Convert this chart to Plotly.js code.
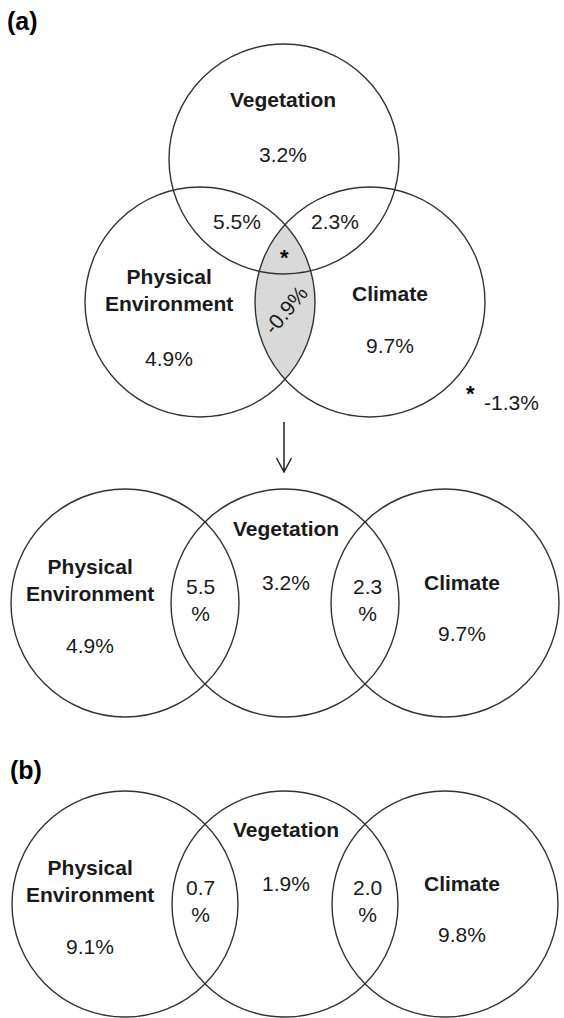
<!DOCTYPE html>
<html>
<head>
<meta charset="utf-8">
<script src="https://cdn.plot.ly/plotly-3.0.1.min.js"></script>
<style>html,body{margin:0;padding:0;background:#fff}#chart{width:564px;height:1018px}</style>
</head>
<body>
<div id="chart"></div>
<script>
// ---------------- data ----------------
const setNames = ['Physical<br>Environment', 'Vegetation', 'Climate'];
const panelLabels = ['(a)', '(b)'];
// panel (a), three-way partition
const aUnique = [4.9, 3.2, 9.7];          // Physical Env., Vegetation, Climate
const aPairs = [5.5, 2.3];                // PhysEnv∩Veg, Veg∩Climate
const aPhysClim = -0.9;                   // PhysEnv∩Climate (shaded)
const aTriple = -1.3;                     // all three (*)
// panel (a), simplified
const aSimpleUnique = [4.9, 3.2, 9.7];
const aSimplePairs = [5.5, 2.3];
// panel (b)
const bUnique = [9.1, 1.9, 9.8];
const bPairs = [0.7, 2.0];

// ---------------- geometry / style ----------------
const FONT = 'Liberation Sans, Arial, sans-serif';
const LINE = {color: '#333333', width: 1.4};
const TXT = '#1a1a1a';
const pct = v => v.toFixed(1) + '%';

const top3 = {r: 115, c: [[200, 302], [284, 159], [370, 302]]};
const rows = [
  {r: 114, cy: 603, cx: [125, 285, 445]},
  {r: 113, cy: 904, cx: [125, 285, 445]}
];

const shapes = [];
const annotations = [];
const traces = [];

function circle(cx, cy, r) {
  shapes.push({type: 'circle', xref: 'x', yref: 'y', x0: cx - r, x1: cx + r, y0: cy - r, y1: cy + r,
    line: LINE, fillcolor: 'rgba(0,0,0,0)', layer: 'above'});
}
function label(text, x, y, opts) {
  annotations.push(Object.assign({text, x, y, xref: 'x', yref: 'y', showarrow: false,
    xanchor: 'center', yanchor: 'middle', font: {family: FONT, size: 21, color: TXT}}, opts || {}));
}
const bold = t => '<b>' + t.split('<br>').join('</b><br><b>') + '</b>';

// ---- panel (a) top: overlapping three circles ----
top3.c.forEach(([x, y]) => circle(x, y, top3.r));
// shaded lens = Physical Environment ∩ Climate
(function () {
  const [p, c] = [top3.c[0], top3.c[2]], r = top3.r;
  const half = (c[0] - p[0]) / 2;
  const a = Math.acos(half / r);
  const xs = [], ys = [];
  const n = 60;
  for (let i = 0; i <= n; i++) { // arc of PE circle (right side)
    const t = -a + 2 * a * i / n;
    xs.push(p[0] + r * Math.cos(t)); ys.push(p[1] + r * Math.sin(t));
  }
  for (let i = 0; i <= n; i++) { // arc of Climate circle (left side)
    const t = Math.PI + a - 2 * a * i / n;
    xs.push(c[0] + r * Math.cos(t)); ys.push(c[1] + r * Math.sin(t));
  }
  traces.push({type: 'scatter', mode: 'lines', x: xs, y: ys, fill: 'toself',
    fillcolor: '#d9d9d9', line: {width: 0}, hoverinfo: 'skip'});
})();

label(bold(panelLabels[0]), 22, 21, {font: {family: FONT, size: 25, color: '#000'}});
label(bold(setNames[1]), 283, 99);
label(pct(aUnique[1]), 283, 154);
label(pct(aPairs[0]), 237, 221);
label(pct(aPairs[1]), 335, 221);
label(bold('*'), 284, 257, {font: {family: FONT, size: 22, color: '#000'}});
label(bold(setNames[0]), 169, 290);
label(bold(setNames[2]), 390, 293);
label(pct(aUnique[0]), 169, 358);
label(pct(aUnique[2]), 390, 345);
label(pct(aPhysClim), 285, 310, {textangle: -50});
label(bold('*'), 470, 393, {font: {family: FONT, size: 22, color: '#000'}});
label(pct(aTriple), 511, 402);

// arrow
shapes.push({type: 'path', xref: 'x', yref: 'y', path: 'M284,422 L284,472 M276.5,458 L284,472 L291.5,458',
  line: {color: '#222', width: 1.5}});

// ---- simplified rows ----
function row(g, uniq, pairs) {
  g.cx.forEach(x => circle(x, g.cy, g.r));
  label(bold(setNames[0]), 90, g.cy - 23);
  label(pct(uniq[0]), 90, g.cy + 42);
  label(bold(setNames[1]), 286, g.cy - 75);
  label(pct(uniq[1]), 286, g.cy - 21);
  label(pct(pairs[0]).replace('%', '<br>%'), 200, g.cy - 3);
  label(pct(pairs[1]).replace('%', '<br>%'), 367, g.cy - 3);
  label(bold(setNames[2]), 462, g.cy - 21);
  label(pct(uniq[2]), 462, g.cy + 30);
}
row(rows[0], aSimpleUnique, aSimplePairs);
row(rows[1], bUnique, bPairs);
label(bold(panelLabels[1]), 26, 770, {font: {family: FONT, size: 25, color: '#000'}});

const layout = {
  width: 564, height: 1018,
  margin: {l: 0, r: 0, t: 0, b: 0},
  paper_bgcolor: '#fff', plot_bgcolor: '#fff',
  showlegend: false,
  xaxis: {range: [0, 564], visible: false, fixedrange: true},
  yaxis: {range: [1018, 0], visible: false, fixedrange: true},
  shapes, annotations
};
Plotly.newPlot('chart', traces, layout, {displayModeBar: false, staticPlot: true});
</script>
</body>
</html>
